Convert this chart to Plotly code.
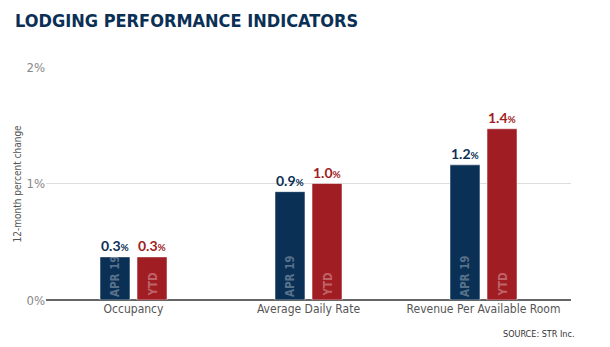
import plotly.graph_objects as go

categories = ["Occupancy", "Average Daily Rate", "Revenue Per Available Room"]
apr_values = [0.37, 0.93, 1.16]
ytd_values = [0.37, 1.0, 1.47]
apr_labels = ["0.3", "0.9", "1.2"]
ytd_labels = ["0.3", "1.0", "1.4"]
series_names = ["APR 19", "YTD"]
y_ticks = [0, 1, 2]
y_tick_labels = ["0%", "1%", "2%"]

NAVY = "#0b3055"
RED = "#9f1d23"
FONT = "DejaVu Sans Condensed, Roboto, sans-serif"

L, R, T, B = 46, 39, 67, 47
PW, PH = 610 - L - R, 347 - T - B

fig = go.Figure()
for name, vals, col in [(series_names[0], apr_values, NAVY), (series_names[1], ytd_values, RED)]:
    fig.add_trace(go.Bar(
        x=categories, y=vals, name=name, marker=dict(color=col, line=dict(color="rgba(255,255,255,0.5)", width=1)),
        hoverinfo="skip",
    ))

annotations = []
for i, c in enumerate(categories):
    for name, vals, labs, col, shift in [(series_names[0], apr_values, apr_labels, NAVY, -18.5),
                                         (series_names[1], ytd_values, ytd_labels, RED, 18.5)]:
        annotations.append(dict(
            x=c, y=vals[i], xref="x", yref="y", xshift=shift, yanchor="bottom", yshift=1,
            text=f"<b>{labs[i]}</b><span style='font-size:10px'><b>%</b></span>",
            showarrow=False, font=dict(family="Lato, sans-serif", size=14, color=col),
        ))
        annotations.append(dict(
            x=c, y=0, xref="x", yref="y", xshift=shift, yanchor="bottom", yshift=1,
            text=f"<b>{name}</b>", textangle=-90, showarrow=False,
            font=dict(family=FONT, size=11.5, color="rgba(255,255,255,0.33)"),
        ))

annotations.append(dict(x=(13 - L) / PW, y=(347 - B - 8) / PH, xref="paper", yref="paper", xanchor="left", yanchor="top",
                        text="<b>LODGING PERFORMANCE INDICATORS</b>", showarrow=False,
                        font=dict(family=FONT, size=18, color=NAVY)))
annotations.append(dict(x=(577 - L) / PW, y=(T + PH - 341) / PH, xref="paper", yref="paper", xanchor="right", yanchor="bottom",
                        text="SOURCE: STR Inc.", showarrow=False,
                        font=dict(family=FONT, size=9, color="#333")))
annotations.append(dict(x=(17 - L) / PW, y=0.5, xref="paper", yref="paper", xanchor="center", yanchor="middle",
                        text="12-month percent change", textangle=-90, showarrow=False,
                        font=dict(family=FONT, size=10, color="#555")))

fig.update_layout(
    width=610, height=347,
    margin=dict(l=L, r=R, t=T, b=B, autoexpand=False),
    paper_bgcolor="white", plot_bgcolor="white",
    showlegend=False,
    bargap=0.577, bargroupgap=0.19,
    annotations=annotations,
    font=dict(family=FONT),
    xaxis=dict(showgrid=False, tickfont=dict(family=FONT, size=12, color="#555"), ticks="",
               showline=False, automargin=False),
    yaxis=dict(range=[0, 2], tickvals=y_ticks, ticktext=y_tick_labels, showgrid=True,
               gridcolor="#dddddd", gridwidth=1, zeroline=True, zerolinecolor="#666", zerolinewidth=1.5,
               tickfont=dict(family=FONT, size=13, color="#888"), automargin=False,
               ticks=""),
)

fig.write_html("out.html")
